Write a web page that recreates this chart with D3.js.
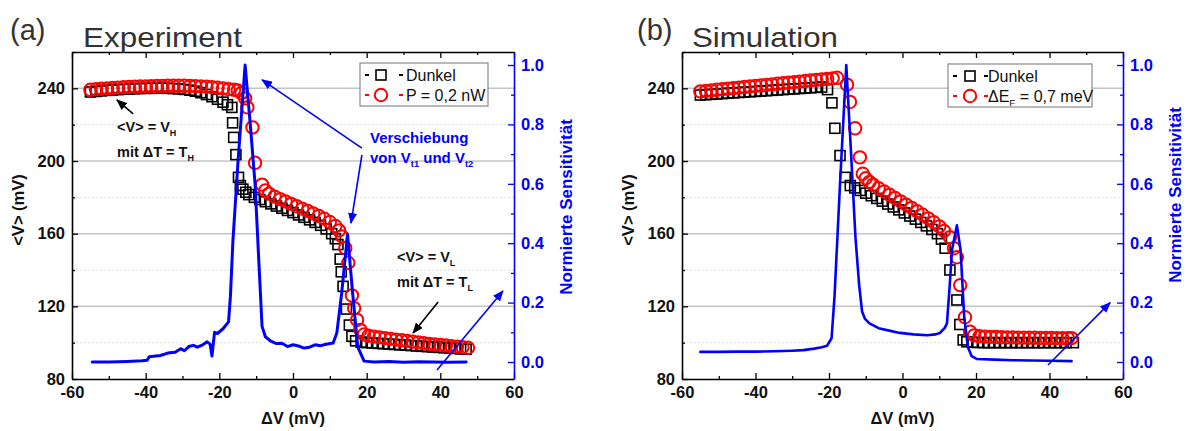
<!DOCTYPE html>
<html>
<head>
<meta charset="utf-8">
<script src="https://cdn.jsdelivr.net/npm/d3@7"></script>
<style>
  body { margin: 0; background: #fff; }
  svg { display: block; font-family: "Liberation Sans", Arial, sans-serif; }
</style>
</head>
<body>
<svg id="chart" width="1186" height="431"></svg>
<script>
// ---- tick values ----
const xTicks = [-60, -40, -20, 0, 20, 40, 60];
const xMinor = [-50, -30, -10, 10, 30, 50];
const yTicks = [80, 120, 160, 200, 240];
const yMinor = [100, 140, 180, 220, 260];
const sTicks = [0, 0.2, 0.4, 0.6, 0.8, 1.0];
const sMinor = [0.1, 0.3, 0.5, 0.7, 0.9];

// ---- (a) Experiment: <V> vs dV, dark and illuminated ----
const expDark = [
  [-55,238.0],[-53.5,238.3],[-52,238.6],[-50.5,238.9],[-49,239.1],[-47.5,239.3],[-46,239.5],[-44.5,239.6],
  [-43,239.8],[-41.5,239.9],[-40,240.0],[-38.5,240.0],[-37,240.1],[-35.5,240.1],[-34,240.0],[-32.5,239.9],
  [-31,239.7],[-29.5,239.4],[-28,239.0],[-26.5,238.4],[-25,237.6],[-23.5,236.6],[-22,235.4],[-20.5,234.0],
  [-19,232.4],[-17.8,231.0],[-16.6,229.5],[-16.4,221],[-16.1,213],[-15.5,203.5],[-14.8,191],[-14.3,186.5],
  [-13.6,184.5],[-12.8,182.8],[-12,181.5],[-10.5,180.0],[-9,178.8],[-7.5,177.6],[-6,176.4],[-4.5,175.2],
  [-3,174.0],[-1.5,172.8],[0,171.6],[1.5,170.3],[3,169.0],[4.5,167.6],[6,166.2],[7.5,164.6],[9,162.6],
  [10.5,160.0],[11.5,157.2],[12.2,154],[12.8,146],[13.1,139],[13.6,131],[14.5,118.5],[15.3,109.7],
  [16.0,103.5],[17,101],[18.5,100.3],[20,100.0],[21.5,99.8],[23,99.6],[24.5,99.4],[26,99.2],[27.5,99.0],
  [29,98.8],[30.5,98.6],[32,98.4],[33.5,98.2],[35,98.0],[36.5,97.8],[38,97.6],[39.5,97.4],[41,97.2],
  [42.5,97.0],[44,96.8],[45.5,96.6],[47,96.4]
];
const expLight = [
  [-55,239.2],[-53.5,239.5],[-52,239.8],[-50.5,240.0],[-49,240.2],[-47.5,240.4],[-46,240.6],[-44.5,240.7],
  [-43,240.9],[-41.5,241.0],[-40,241.1],[-38.5,241.2],[-37,241.3],[-35.5,241.3],[-34,241.4],[-32.5,241.4],
  [-31,241.4],[-29.5,241.4],[-28,241.3],[-26.5,241.2],[-25,241.1],[-23.5,240.9],[-22,240.6],[-20.5,240.3],
  [-19,239.9],[-17.5,239.5],[-16,239.2],[-15,238.8],[-14,237.4],[-13,234.5],[-12.4,229.5],[-11,218.5],
  [-10.3,199],[-8.4,187],[-7.5,183.8],[-6.5,182.0],[-5,180.4],[-3.5,179.0],[-2,177.7],[-0.5,176.4],
  [1,175.1],[2.5,173.8],[4,172.5],[5.5,171.1],[7,169.7],[8.5,168.2],[10,166.4],[11.5,164.2],[12.5,161.8],
  [13.3,158.5],[14.2,152],[15,144],[16,126],[16.6,119],[17.4,112.5],[18.3,107],[19.3,104.5],[20.5,103.8],
  [22,103.3],[23.5,102.9],[25,102.5],[26.5,102.1],[28,101.7],[29.5,101.3],[31,100.9],[32.5,100.5],
  [34,100.1],[35.5,99.7],[37,99.3],[38.5,99.0],[40,98.7],[41.5,98.4],[43,98.1],[44.5,97.8],[46,97.5],[47.5,97.2]
];
const expSens = [
  [-54.5,0.0],[-50,0.0],[-45,0.002],[-41,0.004],[-39.6,0.006],[-39,0.018],[-36,0.022],[-34,0.03],
  [-32,0.033],[-30.5,0.045],[-29.5,0.038],[-28.3,0.052],[-27,0.056],[-26,0.05],[-24.5,0.058],[-23.3,0.068],
  [-22.5,0.06],[-22,0.02],[-21.3,0.1],[-20.5,0.096],[-19,0.112],[-17.5,0.135],[-17,0.22],[-16.3,0.41],
  [-14.9,0.68],[-13,1.0],[-11.6,0.8],[-10.3,0.6],[-9.2,0.32],[-8.4,0.12],[-7.5,0.085],[-6,0.07],
  [-4.5,0.062],[-3,0.063],[-1.5,0.052],[0,0.058],[1.5,0.054],[3,0.047],[4.5,0.05],[6,0.058],[7.5,0.055],
  [9,0.06],[10.9,0.064],[11.9,0.098],[13.2,0.23],[14.8,0.43],[16.2,0.23],[17.6,0.05],[19.3,0.003],
  [22,0.0],[26,0.002],[30,-0.001],[34,0.001],[38,0.0],[42,-0.001],[47,0.0]
];

// ---- (b) Simulation ----
const simDark = [
  [-55,236.3],[-53.5,236.5],[-52,236.7],[-50.5,236.9],[-49,237.1],[-47.5,237.3],[-46,237.5],[-44.5,237.7],
  [-43,237.9],[-41.5,238.1],[-40,238.3],[-38.5,238.5],[-37,238.7],[-35.5,238.9],[-34,239.1],[-32.5,239.3],
  [-31,239.5],[-29.5,239.7],[-28,239.9],[-26.5,240.1],[-25,240.3],[-23.5,240.5],[-22,240.7],[-20.4,239.3],
  [-19.2,232],[-18.4,218],[-17,203],[-15.6,191],[-14.2,186.5],[-13,185.2],[-11.5,183.8],[-10,182.3],
  [-8.5,180.9],[-7,179.4],[-5.5,177.9],[-4,176.3],[-2.5,174.7],[-1,173.1],[0.5,171.4],[2,169.7],[3.5,168],
  [5,166.2],[6.5,164.3],[8,162.3],[9.5,160],[10.6,157],[11.6,152],[12.9,140],[14.8,123.5],[15.6,110],
  [16.5,101.5],[17.5,100.5],[19,100.2],[20.5,100.1],[22,100.0],[23.5,100.0],[25,100.0],[26.5,100.0],
  [28,100.0],[29.5,100.0],[31,100.0],[32.5,100.0],[34,100.0],[35.5,100.0],[37,100.0],[38.5,100.0],
  [40,100.0],[41.5,100.0],[43,100.0],[44.5,100.0],[46.5,100.0]
];
const simShift = [
  [-55,238.3],[-53.5,238.6],[-52,238.9],[-50.5,239.2],[-49,239.5],[-47.5,239.8],[-46,240.1],[-44.5,240.4],
  [-43,240.7],[-41.5,241.0],[-40,241.3],[-38.5,241.6],[-37,241.9],[-35.5,242.2],[-34,242.5],[-32.5,242.8],
  [-31,243.1],[-29.5,243.4],[-28,243.7],[-26.5,244.0],[-25,244.3],[-23.5,244.6],[-22,244.9],[-20.5,245.2],
  [-19,245.5],[-17.8,245.8],[-15.1,242],[-14.3,232.5],[-12.9,218],[-11.6,202],[-10.8,193],[-10,190.5],
  [-9,188.5],[-8,187],[-6.5,185],[-5,183.2],[-3.5,181.4],[-2,179.6],[-0.5,177.8],[1,176],[2.5,174.2],
  [4,172.3],[5.5,170.4],[7,168.4],[8.5,166.3],[10,164],[11.3,161.5],[12.9,158],[14,152],[14.8,147],
  [15.7,131.7],[17,114],[18.4,106],[19.5,104],[21,103.5],[22.5,103.3],[24,103.2],[25.5,103.1],[27,103.0],
  [28.5,102.9],[30,102.9],[31.5,102.8],[33,102.8],[34.5,102.7],[36,102.7],[37.5,102.6],[39,102.6],
  [40.5,102.6],[42,102.5],[43.5,102.5],[45,102.5],[46,102.5]
];
const simSens = [
  [-55,0.034],[-50,0.034],[-45,0.035],[-40,0.035],[-35,0.036],[-30,0.038],[-27,0.04],[-24,0.045],
  [-22,0.05],[-20.5,0.055],[-19.3,0.08],[-18.5,0.22],[-17,0.6],[-15.3,1.0],[-14.2,0.75],[-12.8,0.42],
  [-11.8,0.26],[-11,0.17],[-10.2,0.145],[-9,0.13],[-6.5,0.114],[-3,0.104],[-0.7,0.098],[3,0.093],
  [6.7,0.09],[9,0.093],[10.2,0.098],[11.5,0.115],[12.1,0.13],[12.8,0.25],[13.5,0.38],[14.8,0.46],
  [15.8,0.377],[16.8,0.15],[17.8,0.05],[18.8,0.02],[20.3,0.01],[25,0.008],[30,0.006],[35,0.005],
  [40,0.004],[46,0.003]
];

const BLUE = '#0000ff';
const svg = d3.select('#chart');
svg.append('rect').attr('width', 1186).attr('height', 431).attr('fill', '#fff');

const defs = svg.append('defs');
[['ahBlack', '#000'], ['ahBlue', BLUE]].forEach(([id, c]) => {
  defs.append('marker').attr('id', id)
    .attr('markerUnits', 'userSpaceOnUse')
    .attr('markerWidth', 11).attr('markerHeight', 9)
    .attr('refX', 10).attr('refY', 4.5).attr('orient', 'auto')
    .append('path').attr('d', 'M0,0 L11,4.5 L0,9 Z').attr('fill', c);
});

// text with subscripts: parts = [[text, isSub], ...]
function rich(sel, parts, size) {
  let down = false;
  parts.forEach(([t, sub]) => {
    const ts = sel.append('tspan').text(t).attr('font-size', sub ? size * 0.62 : size);
    if (sub && !down) { ts.attr('dy', 4); down = true; }
    else if (!sub && down) { ts.attr('dy', -4); down = false; }
  });
}

function panel(p) {
  const g = svg.append('g');
  const x = d3.scaleLinear().domain([-60, 60]).range([p.left, p.right]);
  const y = d3.scaleLinear().domain([80, 260]).range([p.bottom, p.top]);
  const yS = d3.scaleLinear().domain([-0.0572, 1.0438]).range([p.bottom, p.top]);

  // grid lines
  g.selectAll('line.gmaj').data(yTicks.filter(d => d > 80)).join('line').attr('class', 'gmaj')
    .attr('x1', p.left).attr('x2', p.right).attr('y1', d => y(d)).attr('y2', d => y(d))
    .attr('stroke', '#c4c4c4').attr('stroke-width', 1.5);
  g.selectAll('line.gmin').data(yMinor.filter(d => d < 260)).join('line').attr('class', 'gmin')
    .attr('x1', p.left).attr('x2', p.right).attr('y1', d => y(d)).attr('y2', d => y(d))
    .attr('stroke', '#dedede').attr('stroke-width', 1).attr('stroke-dasharray', '2,2');

  // axes
  const styleAx = (sel, color) => {
    sel.select('.domain').attr('stroke', color).attr('stroke-width', 1.6);
    sel.selectAll('.tick line').attr('stroke', color).attr('stroke-width', 1.3);
    sel.selectAll('.tick text').attr('font-size', 16.5).attr('font-weight', 'bold')
      .attr('fill', color === '#000' ? '#111' : color).attr('font-family', '"Liberation Sans", Arial, sans-serif');
    return sel;
  };
  const addAx = (axis, tr, color, minor) => {
    const s = g.append('g').attr('transform', tr).call(axis);
    styleAx(s, color);
    if (minor) s.select('.domain').remove();
    return s;
  };
  const fmt = d => String(d);
  addAx(d3.axisBottom(x).tickValues(xMinor).tickSize(-3).tickFormat(''), `translate(0,${p.bottom})`, '#000', true);
  addAx(d3.axisTop(x).tickValues(xMinor).tickSize(-3).tickFormat(''), `translate(0,${p.top})`, '#000', true);
  addAx(d3.axisLeft(y).tickValues(yMinor).tickSize(-3).tickFormat(''), `translate(${p.left},0)`, '#000', true);
  addAx(d3.axisRight(yS).tickValues(sMinor).tickSize(-3).tickFormat(''), `translate(${p.right},0)`, BLUE, true);
  addAx(d3.axisBottom(x).tickValues(xTicks).tickSize(-6).tickSizeOuter(0).tickPadding(7).tickFormat(fmt), `translate(0,${p.bottom})`, '#000');
  addAx(d3.axisTop(x).tickValues(xTicks).tickSize(-6).tickSizeOuter(0).tickFormat(''), `translate(0,${p.top})`, '#000');
  addAx(d3.axisLeft(y).tickValues(yTicks).tickSize(-6).tickSizeOuter(0).tickPadding(7).tickFormat(fmt), `translate(${p.left},0)`, '#000');
  addAx(d3.axisRight(yS).tickValues(sTicks).tickSize(-6).tickSizeOuter(0).tickPadding(7).tickFormat(d3.format('.1f')), `translate(${p.right},0)`, BLUE);

  // axis titles
  g.append('text').attr('x', (p.left + p.right) / 2).attr('y', 424).attr('text-anchor', 'middle')
    .attr('font-size', 16.5).attr('font-weight', 'bold').attr('fill', '#111').text('ΔV (mV)');
  g.append('text').attr('transform', `translate(${p.left - 48},${p.ylabY}) rotate(-90)`).attr('text-anchor', 'middle')
    .attr('font-size', 16.5).attr('font-weight', 'bold').attr('fill', '#111').text('<V> (mV)');
  g.append('text').attr('transform', `translate(${p.right + 58},${p.slabY}) rotate(-90)`).attr('text-anchor', 'middle')
    .attr('font-size', 17).attr('font-weight', 'bold').attr('fill', BLUE).text('Normierte Sensitivität');

  // panel letter and title
  g.append('text').attr('x', p.letterX).attr('y', 40).attr('font-size', 29).attr('fill', '#333').text(p.letter);
  g.append('text').attr('x', p.titleX).attr('y', 47).attr('font-size', 28.5).attr('fill', '#333')
    .attr('textLength', p.titleW).attr('lengthAdjust', 'spacingAndGlyphs').text(p.title);

  // data markers
  g.append('g').selectAll('rect').data(p.dark).join('rect')
    .attr('x', d => x(d[0]) - 5).attr('y', d => y(d[1]) - 5).attr('width', 10).attr('height', 10)
    .attr('fill', 'none').attr('stroke', '#000').attr('stroke-width', 1.6);
  g.append('g').selectAll('circle').data(p.light).join('circle')
    .attr('cx', d => x(d[0])).attr('cy', d => y(d[1])).attr('r', 6.2)
    .attr('fill', 'none').attr('stroke', '#ff0000').attr('stroke-width', 2);

  // sensitivity curve
  g.append('path').datum(p.sens)
    .attr('fill', 'none').attr('stroke', BLUE).attr('stroke-width', p.sensW)
    .attr('stroke-linejoin', 'round').attr('stroke-linecap', 'round')
    .attr('d', d3.line().x(d => x(d[0])).y(d => yS(d[1])));

  // legend
  const L = p.legend;
  g.append('rect').attr('x', L.x).attr('y', L.y).attr('width', L.w).attr('height', 43)
    .attr('fill', '#fff').attr('stroke', '#8a8a8a').attr('stroke-width', 1.2);
  [0, 1].forEach(i => {
    const cy = L.y + 12 + i * 20;
    const col = i === 0 ? '#000' : '#ff0000';
    g.append('line').attr('x1', L.x + 5).attr('x2', L.x + 9).attr('y1', cy).attr('y2', cy).attr('stroke', col).attr('stroke-width', 2);
    g.append('line').attr('x1', L.x + L.d2).attr('x2', L.x + L.d2 + 4).attr('y1', cy).attr('y2', cy).attr('stroke', col).attr('stroke-width', 2);
    if (i === 0) {
      g.append('rect').attr('x', L.x + L.m - 5).attr('y', cy - 5).attr('width', 10).attr('height', 10)
        .attr('fill', 'none').attr('stroke', '#000').attr('stroke-width', 1.6);
    } else {
      g.append('circle').attr('cx', L.x + L.m).attr('cy', cy).attr('r', 6.2)
        .attr('fill', 'none').attr('stroke', '#ff0000').attr('stroke-width', 2);
    }
    const t = g.append('text').attr('x', L.x + L.tx).attr('y', cy + 6).attr('fill', '#111');
    rich(t, L.labels[i], 16);
  });

  // annotation texts
  p.notes.forEach(n => {
    const t = g.append('text').attr('x', n.x).attr('y', n.y).attr('font-weight', 'bold')
      .attr('fill', n.color).attr('text-anchor', n.anchor || 'start');
    rich(t, n.parts, n.size);
  });
  // annotation arrows (data coordinates)
  p.arrows.forEach(a => {
    const sy = a.axis === 's' ? yS : y;
    g.append('line')
      .attr('x1', x(a.from[0])).attr('y1', sy(a.from[1]))
      .attr('x2', x(a.to[0])).attr('y2', sy(a.to[1]))
      .attr('stroke', a.color).attr('stroke-width', 1.6)
      .attr('marker-end', a.color === BLUE ? 'url(#ahBlue)' : 'url(#ahBlack)');
  });
}

panel({
  left: 72, right: 514, top: 52, bottom: 379,
  ylabY: 210, slabY: 207,
  letter: '(a)', letterX: 10, title: 'Experiment', titleX: 83, titleW: 159,
  dark: expDark, light: expLight, sens: expSens, sensW: 3,
  legend: { x: 360, y: 63, w: 128, d2: 39, m: 21, tx: 46,
    labels: [[['Dunkel']], [['P = 0,2 nW']]] },
  notes: [
    { x: 117, y: 132, size: 14.5, color: '#111', parts: [['<V> = V'], ['H', 1]] },
    { x: 117, y: 157, size: 14.5, color: '#111', parts: [['mit ΔT = T'], ['H', 1]] },
    { x: 397, y: 262, size: 14.5, color: '#111', parts: [['<V> = V'], ['L', 1]] },
    { x: 397, y: 287, size: 14.5, color: '#111', parts: [['mit ΔT = T'], ['L', 1]] },
    { x: 370, y: 143, size: 15, color: BLUE, parts: [['Verschiebung']] },
    { x: 370, y: 163, size: 15, color: BLUE, parts: [['von V'], ['t1', 1], [' und V'], ['t2', 1]] }
  ],
  arrows: [
    { from: [-43.4, 225.9], to: [-47.8, 233.6], axis: 'v', color: '#000' },
    { from: [39.4, 122.4], to: [32.6, 105.3], axis: 'v', color: '#000' },
    { from: [18.7, 0.72], to: [-8.4, 0.95], axis: 's', color: BLUE },
    { from: [18.7, 0.697], to: [15.75, 0.468], axis: 's', color: BLUE },
    { from: [39.1, -0.027], to: [57.0, 0.239], axis: 's', color: BLUE }
  ]
});

panel({
  left: 682, right: 1123, top: 52, bottom: 379,
  ylabY: 210, slabY: 195,
  letter: '(b)', letterX: 637, title: 'Simulation', titleX: 692, titleW: 146,
  dark: simDark, light: simShift, sens: simSens, sensW: 2.6,
  legend: { x: 948, y: 64, w: 144, d2: 36, m: 22, tx: 40,
    labels: [[['Dunkel']], [['ΔE'], ['F', 1], [' = 0,7 meV']]] },
  notes: [],
  arrows: [
    { from: [39.6, -0.01], to: [56.5, 0.2], axis: 's', color: BLUE }
  ]
});
</script>
</body>
</html>
